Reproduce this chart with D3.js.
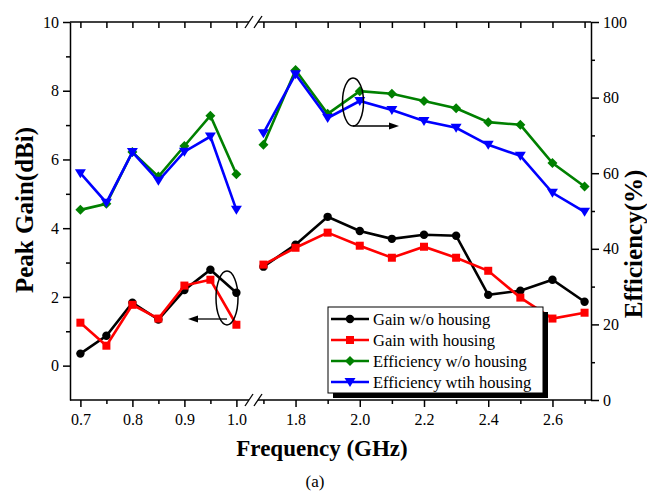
<!DOCTYPE html>
<html lang="en">
    <head>
        <meta charset="utf-8">
        <title>Peak Gain and Efficiency</title>
        <style type="text/css">
            body { margin: 0; background: #fff; }
            text { font-family: "Liberation Serif", "Times New Roman", serif; fill: #000; }
        </style>
    </head>
    <body>

<script src="https://cdn.jsdelivr.net/npm/d3@7/dist/d3.min.js"></script>
<script>

    var w = 647;
    var h = 491;

    // frequencies (GHz) for the two parts of the broken x axis
    var freqLow = [0.7, 0.75, 0.8, 0.85, 0.9, 0.95, 1.0];
    var freqHigh = [1.7, 1.8, 1.9, 2.0, 2.1, 2.2, 2.3, 2.4, 2.5, 2.6, 2.7];

    // peak gain (dBi)
    var gainNoHousingLow = [0.35, 0.87, 1.83, 1.34, 2.2, 2.79, 2.12];
    var gainNoHousingHigh = [2.88, 3.52, 4.33, 3.92, 3.69, 3.81, 3.78, 2.06, 2.18, 2.5, 1.86];
    var gainHousingLow = [1.25, 0.58, 1.77, 1.37, 2.33, 2.5, 1.19];
    var gainHousingHigh = [2.94, 3.43, 3.87, 3.49, 3.14, 3.46, 3.14, 2.76, 1.98, 1.37, 1.54];

    // efficiency (%)
    var effNoHousingLow = [50.3, 51.9, 65.6, 59.1, 67.2, 75.2, 59.7];
    var effNoHousingHigh = [67.5, 87.3, 75.7, 81.7, 81.0, 79.1, 77.2, 73.5, 72.8, 62.7, 56.5];
    var effHousingLow = [60.0, 52.2, 65.6, 58.0, 65.7, 69.7, 50.3];
    var effHousingHigh = [70.6, 86.2, 74.6, 79.1, 76.7, 73.8, 72.0, 67.5, 64.6, 54.8, 49.8];

    var xTicksLow = [0.7, 0.8, 0.9, 1.0];
    var xMinorLow = [0.75, 0.85, 0.95];
    var xTicksHigh = [1.8, 2.0, 2.2, 2.4, 2.6];
    var xMinorHigh = [1.7, 1.9, 2.1, 2.3, 2.5, 2.7];
    var gainTicks = [0, 2, 4, 6, 8, 10];
    var gainMinor = [1, 3, 5, 7, 9];
    var effTicks = [0, 20, 40, 60, 80, 100];
    var effMinor = [10, 30, 50, 70, 90];

    var legendNames = ["Gain w/o housing", "Gain with housing", "Efficiency w/o housing", "Efficiency wtih housing"];

    // plot box (window.top is read-only, so other names)
    var pTop = 22, pBottom = 400, pLeft = 70, pRight = 591;
    var breakA = 249, breakB = 258;

    var xLow = d3.scaleLinear().domain([0.68, 1.03]).range([pLeft, 252]);
    var xHigh = d3.scaleLinear().domain([1.68, 2.72]).range([257, pRight]);
    var yGain = d3.scaleLinear().domain([-1, 10]).range([pBottom, pTop]);
    var yEff = d3.scaleLinear().domain([0, 100]).range([pBottom, pTop]);

    var svg = d3.select("body")
            .append("svg")
            .attr("width", w)
            .attr("height", h);

    var series = [
        {color: "#000000", shape: "circle", y: yGain, low: gainNoHousingLow, high: gainNoHousingHigh},
        {color: "#ff0000", shape: "square", y: yGain, low: gainHousingLow, high: gainHousingHigh},
        {color: "#008000", shape: "diamond", y: yEff, low: effNoHousingLow, high: effNoHousingHigh},
        {color: "#0000ff", shape: "triangle", y: yEff, low: effHousingLow, high: effHousingHigh}
    ];

    function marker(g, shape, color) {
        if (shape == "circle") {
            g.append("circle").attr("r", 4.2).attr("fill", color);
        } else if (shape == "square") {
            g.append("rect").attr("x", -4).attr("y", -4).attr("width", 8).attr("height", 8).attr("fill", color);
        } else if (shape == "diamond") {
            g.append("path").attr("d", "M0,-5L5,0L0,5L-5,0Z").attr("fill", color);
        } else {
            g.append("path").attr("d", "M-5.5,-4L5.5,-4L0,5Z").attr("fill", color);
        }
    }

    // draw the lines and markers, each part of the axis on its own
    series.forEach(function(s) {
        [[freqLow, s.low, xLow], [freqHigh, s.high, xHigh]].forEach(function(part) {
            var pts = part[0].map(function(f, i) { return [part[2](f), s.y(part[1][i])]; });
            svg.append("path")
                .attr("d", d3.line()(pts))
                .attr("fill", "none")
                .attr("stroke", s.color)
                .attr("stroke-width", 2.6);
            pts.forEach(function(p) {
                var g = svg.append("g").attr("transform", "translate(" + p[0] + "," + p[1] + ")");
                marker(g, s.shape, s.color);
            });
        });
    });

    // axes
    function styleAxis(g) {
        g.selectAll("path").attr("stroke", "#000").attr("stroke-width", 1.5);
        g.selectAll("line").attr("stroke", "#000").attr("stroke-width", 1.5);
        g.selectAll("text").attr("font-size", "16px").attr("font-family", "Liberation Serif");
    }

    var axes = [
        [d3.axisBottom(xLow).tickValues(xTicksLow).tickFormat(d3.format(".1f")), xMinorLow, xLow],
        [d3.axisBottom(xHigh).tickValues(xTicksHigh).tickFormat(d3.format(".1f")), xMinorHigh, xHigh]
    ];
    axes.forEach(function(a) {
        var g = svg.append("g").attr("transform", "translate(0," + pBottom + ")")
            .call(a[0].tickSize(7).tickSizeOuter(0).tickPadding(7));
        g.select(".domain").remove();
        styleAxis(g);
        var gm = svg.append("g").attr("transform", "translate(0," + pBottom + ")")
            .call(d3.axisBottom(a[2]).tickValues(a[1]).tickSize(4).tickFormat(""));
        gm.select(".domain").remove();
        styleAxis(gm);
        // mirrored ticks on top, pointing in
        var gt = svg.append("g").attr("transform", "translate(0," + pTop + ")")
            .call(d3.axisBottom(a[2]).tickValues(a[0].tickValues().concat(a[1])).tickSize(6).tickFormat(""));
        gt.select(".domain").remove();
        styleAxis(gt);
    });

    // broken axis lines
    [pTop, pBottom].forEach(function(yy) {
        svg.append("line").attr("x1", pLeft).attr("x2", breakA).attr("y1", yy).attr("y2", yy)
            .attr("stroke", "#000").attr("stroke-width", 1.5);
        svg.append("line").attr("x1", breakB).attr("x2", pRight).attr("y1", yy).attr("y2", yy)
            .attr("stroke", "#000").attr("stroke-width", 1.5);
        [breakA, breakB].forEach(function(bx) {
            svg.append("line").attr("x1", bx - 4).attr("x2", bx + 4).attr("y1", yy + 6).attr("y2", yy - 6)
                .attr("stroke", "#000").attr("stroke-width", 1.3);
        });
    });

    var gl = svg.append("g").attr("transform", "translate(" + pLeft + ",0)")
        .call(d3.axisLeft(yGain).tickValues(gainTicks).tickSize(7).tickSizeOuter(0).tickPadding(4));
    styleAxis(gl);
    var glm = svg.append("g").attr("transform", "translate(" + pLeft + ",0)")
        .call(d3.axisLeft(yGain).tickValues(gainMinor).tickSize(4).tickFormat(""));
    glm.select(".domain").remove();
    styleAxis(glm);

    var gr = svg.append("g").attr("transform", "translate(" + pRight + ",0)")
        .call(d3.axisRight(yEff).tickValues(effTicks).tickSize(8).tickSizeOuter(0).tickPadding(4));
    styleAxis(gr);
    var grm = svg.append("g").attr("transform", "translate(" + pRight + ",0)")
        .call(d3.axisRight(yEff).tickValues(effMinor).tickSize(4).tickFormat(""));
    grm.select(".domain").remove();
    styleAxis(grm);

    // axis titles
    svg.append("text")
        .attr("transform", "translate(33,210) rotate(-90)")
        .attr("text-anchor", "middle")
        .attr("font-size", "25px").attr("font-weight", "bold")
        .text("Peak Gain(dBi)");
    svg.append("text")
        .attr("transform", "translate(642,244) rotate(-90)")
        .attr("text-anchor", "middle")
        .attr("font-size", "25px").attr("font-weight", "bold")
        .text("Efficiency(%)");
    svg.append("text")
        .attr("x", 322).attr("y", 456)
        .attr("text-anchor", "middle")
        .attr("font-size", "23px").attr("font-weight", "bold")
        .text("Frequency (GHz)");
    svg.append("text")
        .attr("x", 315).attr("y", 487)
        .attr("text-anchor", "middle")
        .attr("font-size", "17px")
        .text("(a)");

    // ellipses with arrows pointing to the axis they belong to
    svg.append("ellipse").attr("cx", 227).attr("cy", 298).attr("rx", 11).attr("ry", 27)
        .attr("fill", "none").attr("stroke", "#000").attr("stroke-width", 1.5);
    svg.append("ellipse").attr("cx", 353).attr("cy", 102).attr("rx", 10.5).attr("ry", 24)
        .attr("fill", "none").attr("stroke", "#000").attr("stroke-width", 1.5);
    svg.append("line").attr("x1", 227).attr("x2", 196).attr("y1", 319).attr("y2", 319)
        .attr("stroke", "#000").attr("stroke-width", 1.3);
    svg.append("path").attr("d", "M188,319L198,315.5L198,322.5Z").attr("fill", "#000");
    svg.append("line").attr("x1", 353).attr("x2", 391).attr("y1", 126).attr("y2", 126)
        .attr("stroke", "#000").attr("stroke-width", 1.3);
    svg.append("path").attr("d", "M399,126L389,122.5L389,129.5Z").attr("fill", "#000");

    // legend with shadow
    var legend = svg.append("g");
    legend.append("rect").attr("x", 333).attr("y", 312).attr("width", 215).attr("height", 86).attr("fill", "#000");
    legend.append("rect").attr("x", 328).attr("y", 307).attr("width", 215).attr("height", 86)
        .attr("fill", "#fff").attr("stroke", "#000").attr("stroke-width", 1);
    legendNames.forEach(function(name, i) {
        var yy = 319 + i * 21;
        legend.append("line").attr("x1", 331).attr("x2", 369).attr("y1", yy).attr("y2", yy)
            .attr("stroke", series[i].color).attr("stroke-width", 2.6);
        var g = legend.append("g").attr("transform", "translate(350," + yy + ")");
        marker(g, series[i].shape, series[i].color);
        legend.append("text").attr("x", 373).attr("y", yy + 5.5).attr("font-size", "16.5px").text(name);
    });

</script>

    </body>
</html>
